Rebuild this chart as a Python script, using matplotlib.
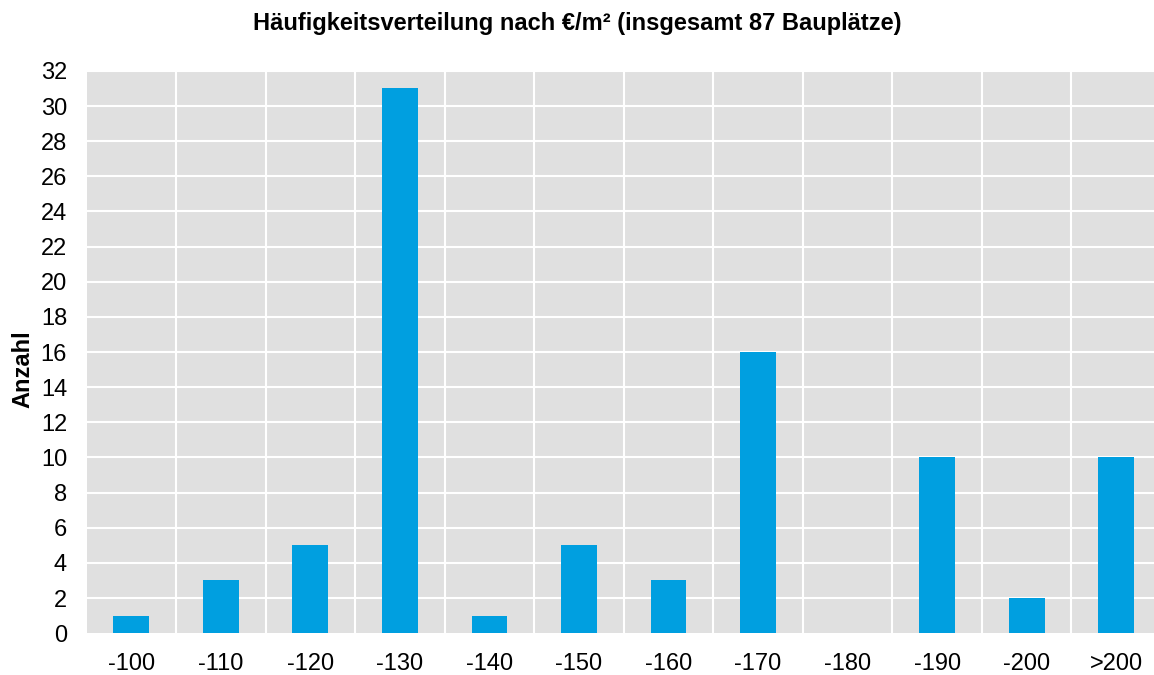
import matplotlib
matplotlib.use("Agg")
import matplotlib.pyplot as plt
import numpy as np

# Data
categories = ["-100", "-110", "-120", "-130", "-140", "-150",
              "-160", "-170", "-180", "-190", "-200", ">200"]
counts = [1, 3, 5, 31, 1, 5, 3, 16, 0, 10, 2, 10]

plt.rcParams["font.family"] = ["Liberation Sans", "DejaVu Sans"]

fig = plt.figure(figsize=(11.54, 6.75), dpi=100)
ax = fig.add_axes([0.075, 0.062, 0.931, 0.833])

x = np.arange(len(categories))
ax.bar(x, counts, width=0.4, color="#009FE0", zorder=3)

ax.set_facecolor("#E0E0E0")
ax.set_xlim(-0.5, len(categories) - 0.5)
ax.set_ylim(0, 32)
ax.set_yticks(range(0, 33, 2))
ax.set_xticks(x)
ax.set_xticklabels(categories)

# white grid: horizontal at ticks, vertical between categories
for y in range(2, 33, 2):
    ax.axhline(y, color="white", lw=1.5, zorder=1)
for b in np.arange(0.5, len(categories) - 0.5, 1):
    ax.axvline(b, color="white", lw=1.5, zorder=1)

for s in ax.spines.values():
    s.set_visible(False)
ax.tick_params(length=0, labelsize=17)
ax.tick_params(axis="y", pad=14)
ax.tick_params(axis="x", pad=14)

# y label sits a bit below the axes centre in the original
fig.text(0.02, 1 - 369 / 675, "Anzahl", rotation=90, fontsize=17,
         fontweight="bold", ha="center", va="center")
fig.suptitle("Häufigkeitsverteilung nach €/m² (insgesamt 87 Bauplätze)",
             fontsize=17, fontweight="bold", y=0.982)

fig.savefig("out.png", dpi=100)
